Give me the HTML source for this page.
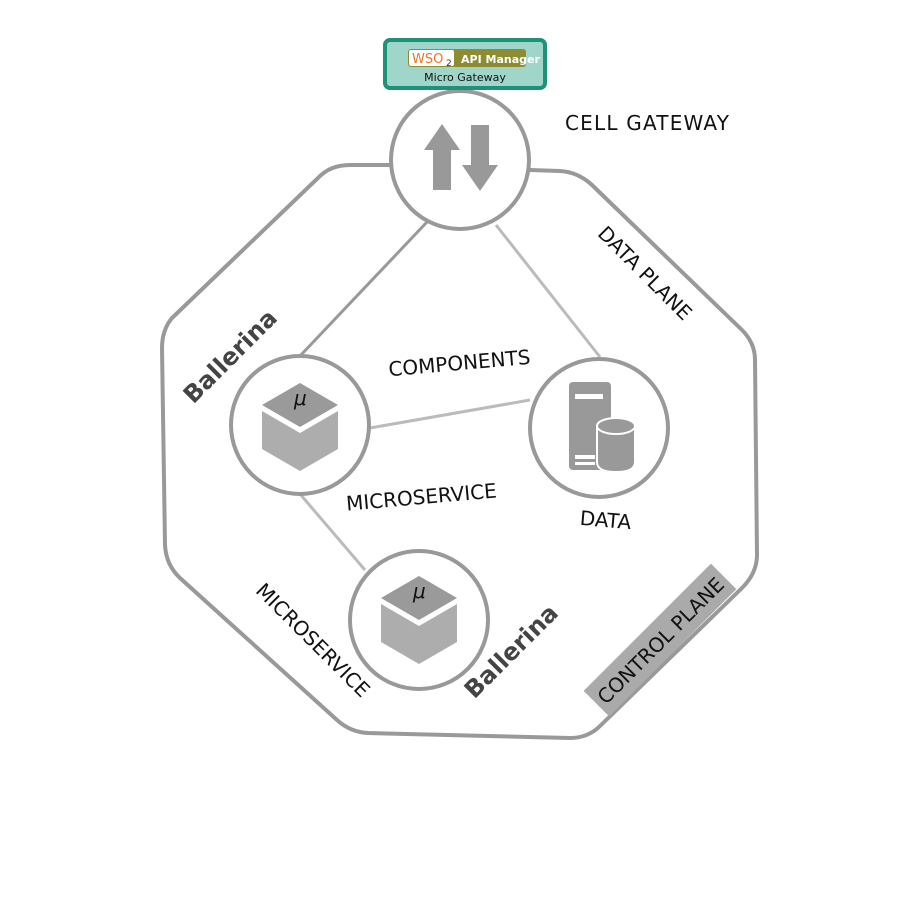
<!DOCTYPE html>
<html><head><meta charset="utf-8"><style>
html,body{margin:0;padding:0;background:#fff;}
svg{display:block;}
text{font-family:"DejaVu Sans","Liberation Sans",sans-serif;}
</style></head><body>
<svg width="920" height="902" viewBox="0 0 920 902" xmlns="http://www.w3.org/2000/svg">
<defs>
<g id="cube">
<polygon points="0,-42 38,-20 0,2 -38,-20" fill="#9a9a9a"/>
<polygon points="-38,-14 0,8 38,-14 38,24 0,46 -38,24" fill="#adadad"/>
<text x="-6" y="-20" font-family="Liberation Serif,serif" font-style="italic" font-size="20" fill="#111">μ</text>
</g>
</defs>
<path d="M390,165 L350,165 Q330,165 318,178 L172,318 Q162,330 162,348 L165,545 Q166,565 180,578 L337,720 Q350,732 368,733 L570,738 Q588,738 600,726 L742,588 Q757,573 757,555 L755,360 Q755,343 742,330 L592,185 Q578,172 560,171 L530,170" fill="none" stroke="#999" stroke-width="4"/>
<line x1="427" y1="222" x2="300" y2="356" stroke="#999" stroke-width="3"/>
<line x1="496" y1="225" x2="600" y2="357" stroke="#bbb" stroke-width="3"/>
<line x1="370" y1="428" x2="530" y2="400" stroke="#bbb" stroke-width="3"/>
<line x1="300" y1="494" x2="365" y2="570" stroke="#bbb" stroke-width="3"/>
<circle cx="460" cy="160" r="69" fill="#fff" stroke="#999" stroke-width="4"/>
<circle cx="300" cy="425" r="69" fill="#fff" stroke="#999" stroke-width="4"/>
<circle cx="599" cy="428" r="69" fill="#fff" stroke="#999" stroke-width="4"/>
<circle cx="419" cy="620" r="69" fill="#fff" stroke="#999" stroke-width="4"/>
<polygon points="442,124 424,150 433,150 433,190 451,190 451,150 460,150" fill="#999"/>
<polygon points="480,191 498,165 489,165 489,125 471,125 471,165 462,165" fill="#999"/>
<use href="#cube" x="300" y="425"/>
<use href="#cube" x="419" y="618"/>
<rect x="569" y="382" width="42" height="88" rx="4" fill="#999"/>
<rect x="575" y="394" width="28" height="5" fill="#fff"/>
<rect x="575" y="455" width="20" height="4" fill="#fff"/>
<rect x="575" y="462" width="20" height="3" fill="#fff"/>
<path d="M597,426 L597,462 Q597,472 616,472 Q635,472 635,462 L635,426 Z" fill="#999" stroke="#fff" stroke-width="2"/>
<ellipse cx="616" cy="426" rx="19" ry="8" fill="#999" stroke="#fff" stroke-width="2"/>
<rect x="385" y="40" width="160" height="48" rx="5" fill="#9fd6c9" stroke="#1e9278" stroke-width="4"/>
<rect x="408" y="49" width="118" height="18" rx="3" fill="#8d8c32"/>
<rect x="409" y="50" width="45" height="16" rx="2" fill="#fff"/>
<text x="412" y="63" font-size="13" fill="#e8752a" font-family="Liberation Sans,sans-serif">WSO</text>
<text x="446" y="66" font-size="9" fill="#333">2</text>
<text x="461" y="63" font-size="11" fill="#fff" font-family="Liberation Sans,sans-serif" font-weight="bold">API Manager</text>
<text x="465" y="81" font-size="11" fill="#111" text-anchor="middle">Micro Gateway</text>
<g transform="translate(660,640) rotate(-45)">
<rect x="-90" y="-18" width="180" height="36" fill="#aaa"/>
<text x="0" y="8" font-size="20" fill="#111" text-anchor="middle">CONTROL PLANE</text>
</g>
<text x="565" y="130" font-size="20" fill="#111" letter-spacing="1.2">CELL GATEWAY</text>
<text transform="translate(640,278) rotate(45)" font-size="20" fill="#111" text-anchor="middle">DATA PLANE</text>
<text transform="translate(460,370) rotate(-5)" font-size="20" fill="#111" text-anchor="middle">COMPONENTS</text>
<text transform="translate(422,504) rotate(-5)" font-size="20" fill="#111" text-anchor="middle">MICROSERVICE</text>
<text transform="translate(605,527) rotate(5)" font-size="20" fill="#111" text-anchor="middle">DATA</text>
<text transform="translate(308,645) rotate(45)" font-size="20" fill="#111" text-anchor="middle">MICROSERVICE</text>
<text transform="translate(236,362) rotate(-45)" font-size="24" font-weight="bold" fill="#444" text-anchor="middle" font-family="Liberation Sans,sans-serif">Ballerina</text>
<text transform="translate(517,657) rotate(-45)" font-size="24" font-weight="bold" fill="#444" text-anchor="middle" font-family="Liberation Sans,sans-serif">Ballerina</text>
</svg>
</body></html>
